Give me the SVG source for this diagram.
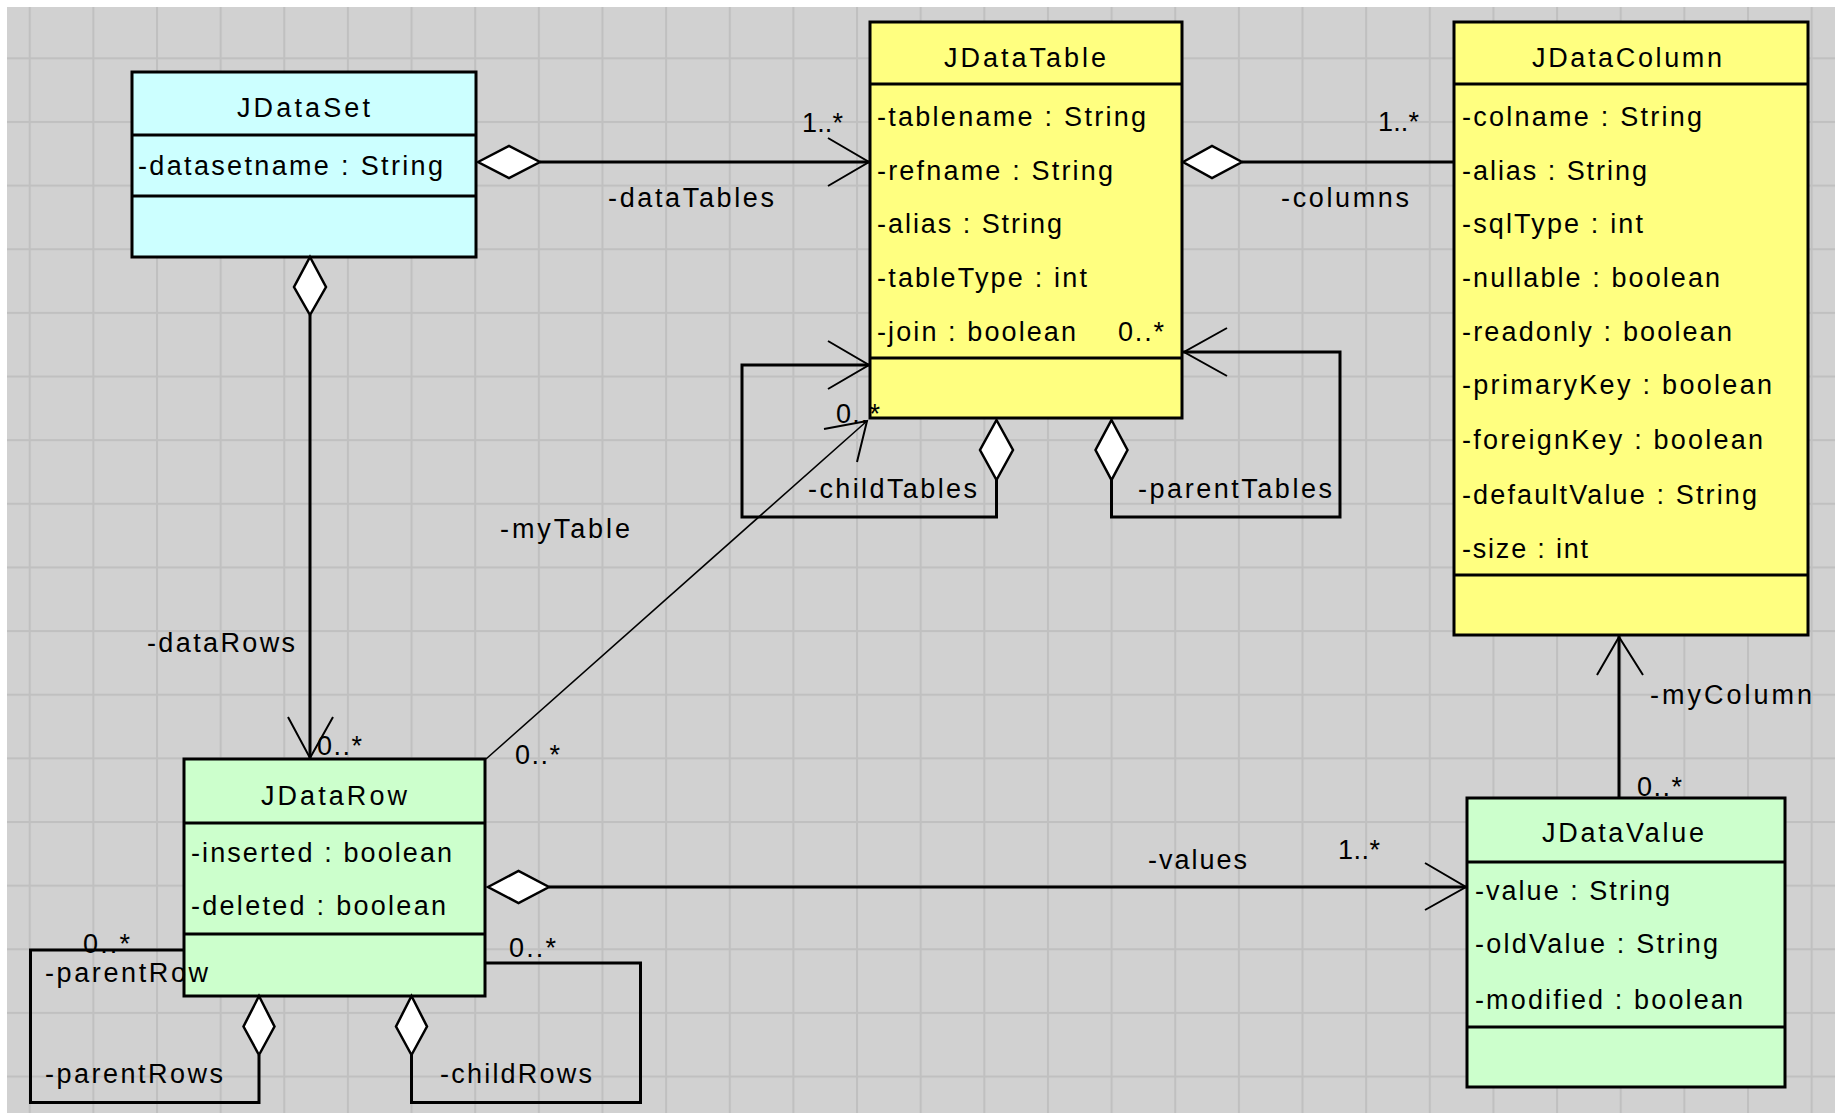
<svg xmlns="http://www.w3.org/2000/svg" width="1835" height="1113" viewBox="0 0 1835 1113">
<defs>
<pattern id="grid" x="28.7" y="57.3" width="63.64" height="63.64" patternUnits="userSpaceOnUse">
<rect width="63.64" height="63.64" fill="#d1d1d1"/>
<rect x="0" y="0" width="2" height="63.64" fill="#c0c0c0"/>
<rect x="0" y="0" width="63.64" height="2" fill="#c0c0c0"/>
</pattern>
<style>
text{font-family:"Liberation Sans",Arial,sans-serif;font-size:27px;fill:#000}
.box{stroke:#000;stroke-width:3}
.set{fill:#ccffff}
.tbl{fill:#ffff80}
.row{fill:#ccffcc}
.div{stroke:#000;stroke-width:3}
.ln{fill:none;stroke:#000;stroke-width:3}
.thin{fill:none;stroke:#000;stroke-width:1.6}
.arr{fill:none;stroke:#000;stroke-width:2}
.dia{fill:#fff;stroke:#000;stroke-width:2.5}
</style>
</defs>
<rect width="1835" height="1113" fill="#ffffff"/>
<rect x="7" y="7" width="1828" height="1106" fill="url(#grid)"/>

<g id="JDataSet">
<rect class="box set" x="132" y="72" width="344" height="185"/>
<line class="div" x1="132" y1="135" x2="476" y2="135"/>
<line class="div" x1="132" y1="196" x2="476" y2="196"/>
<text x="237" y="117" textLength="133" lengthAdjust="spacing">JDataSet</text>
<text x="138" y="175" textLength="305" lengthAdjust="spacing">-datasetname : String</text>
</g>

<g id="JDataTable">
<rect class="box tbl" x="870" y="22" width="312" height="396"/>
<line class="div" x1="870" y1="84" x2="1182" y2="84"/>
<line class="div" x1="870" y1="358" x2="1182" y2="358"/>
<text x="944" y="67" textLength="162" lengthAdjust="spacing">JDataTable</text>
<text x="877" y="126" textLength="269" lengthAdjust="spacing">-tablename : String</text>
<text x="877" y="180" textLength="236" lengthAdjust="spacing">-refname : String</text>
<text x="877" y="233" textLength="185" lengthAdjust="spacing">-alias : String</text>
<text x="877" y="287" textLength="210" lengthAdjust="spacing">-tableType : int</text>
<text x="877" y="341" textLength="199" lengthAdjust="spacing">-join : boolean</text>
</g>

<g id="JDataColumn">
<rect class="box tbl" x="1454" y="22" width="354" height="613"/>
<line class="div" x1="1454" y1="84" x2="1808" y2="84"/>
<line class="div" x1="1454" y1="575" x2="1808" y2="575"/>
<text x="1532" y="67" textLength="190" lengthAdjust="spacing">JDataColumn</text>
<text x="1462" y="126" textLength="240" lengthAdjust="spacing">-colname : String</text>
<text x="1462" y="180" textLength="185" lengthAdjust="spacing">-alias : String</text>
<text x="1462" y="233" textLength="181" lengthAdjust="spacing">-sqlType : int</text>
<text x="1462" y="287" textLength="258" lengthAdjust="spacing">-nullable : boolean</text>
<text x="1462" y="341" textLength="270" lengthAdjust="spacing">-readonly : boolean</text>
<text x="1462" y="394" textLength="310" lengthAdjust="spacing">-primaryKey : boolean</text>
<text x="1462" y="449" textLength="301" lengthAdjust="spacing">-foreignKey : boolean</text>
<text x="1462" y="504" textLength="295" lengthAdjust="spacing">-defaultValue : String</text>
<text x="1462" y="558" textLength="126" lengthAdjust="spacing">-size : int</text>
</g>

<g id="JDataRow">
<rect class="box row" x="184" y="759" width="301" height="237"/>
<line class="div" x1="184" y1="823" x2="485" y2="823"/>
<line class="div" x1="184" y1="934" x2="485" y2="934"/>
<text x="261" y="805" textLength="146" lengthAdjust="spacing">JDataRow</text>
<text x="191" y="862" textLength="261" lengthAdjust="spacing">-inserted : boolean</text>
<text x="191" y="915" textLength="255" lengthAdjust="spacing">-deleted : boolean</text>
</g>

<g id="JDataValue">
<rect class="box row" x="1467" y="798" width="318" height="289"/>
<line class="div" x1="1467" y1="862" x2="1785" y2="862"/>
<line class="div" x1="1467" y1="1027" x2="1785" y2="1027"/>
<text x="1542" y="842" textLength="162" lengthAdjust="spacing">JDataValue</text>
<text x="1475" y="900" textLength="195" lengthAdjust="spacing">-value : String</text>
<text x="1475" y="953" textLength="243" lengthAdjust="spacing">-oldValue : String</text>
<text x="1475" y="1009" textLength="268" lengthAdjust="spacing">-modified : boolean</text>
</g>

<g id="connectors">
<!-- dataTables -->
<g id="c-dataTables">
<line class="ln" x1="540" y1="162" x2="869" y2="162"/>
<polygon class="dia" points="478,162 509,146 540,162 509,178"/>
<polyline class="arr" points="828,138 869,162 828,186"/>
<text x="802" y="132" textLength="41" lengthAdjust="spacing">1..*</text>
<text x="608" y="207" textLength="166" lengthAdjust="spacing">-dataTables</text>
</g>
<!-- columns -->
<g id="c-columns">
<line class="ln" x1="1242" y1="162" x2="1454" y2="162"/>
<polygon class="dia" points="1183,162 1212,146 1242,162 1212,178"/>
<text x="1378" y="131" textLength="41" lengthAdjust="spacing">1..*</text>
<text x="1281" y="207" textLength="128" lengthAdjust="spacing">-columns</text>
</g>
<!-- dataRows -->
<g id="c-dataRows">
<line class="ln" x1="310" y1="315" x2="310" y2="758"/>
<polygon class="dia" points="310,257 326,287 310,315 294,287"/>
<polyline class="arr" points="288,717 310,758 333,717"/>
<text x="147" y="652" textLength="148" lengthAdjust="spacing">-dataRows</text>
<text x="317" y="755" textLength="45" lengthAdjust="spacing">0..*</text>
</g>
<!-- myTable -->
<g id="c-myTable">
<line class="thin" x1="486" y1="759" x2="867" y2="421"/>
<polyline class="arr" points="824,429 867,421 857,462"/>
<text x="500" y="538" textLength="130" lengthAdjust="spacing">-myTable</text>
<text x="515" y="764" textLength="45" lengthAdjust="spacing">0..*</text>
<text x="836" y="423" textLength="44" lengthAdjust="spacing">0..*</text>
</g>
<!-- childTables -->
<g id="c-childTables">
<polyline class="ln" points="869,365 742,365 742,517 996.5,517 996.5,480"/>
<polygon class="dia" points="996.5,420 1013,450 996.5,480 980,450"/>
<polyline class="arr" points="828,341 869,365 828,389"/>
<text x="808" y="498" textLength="169" lengthAdjust="spacing">-childTables</text>
</g>
<!-- parentTables -->
<g id="c-parentTables">
<polyline class="ln" points="1183,352 1340,352 1340,517 1111.5,517 1111.5,480"/>
<polygon class="dia" points="1111.5,420 1127.5,450 1111.5,480 1095.5,450"/>
<polyline class="arr" points="1227,328 1184,352 1227,376"/>
<text x="1138" y="498" textLength="194" lengthAdjust="spacing">-parentTables</text>
<text x="1118" y="341" textLength="46" lengthAdjust="spacing">0..*</text>
</g>
<!-- values -->
<g id="c-values">
<line class="ln" x1="549" y1="887" x2="1466" y2="887"/>
<polygon class="dia" points="488,887 518.5,871 549,887 518.5,903"/>
<polyline class="arr" points="1425,863 1466,887 1425,910"/>
<text x="1148" y="869" textLength="99" lengthAdjust="spacing">-values</text>
<text x="1338" y="859" textLength="42" lengthAdjust="spacing">1..*</text>
</g>
<!-- myColumn -->
<g id="c-myColumn">
<line class="ln" x1="1619" y1="798" x2="1619" y2="636"/>
<polyline class="arr" points="1597,675 1619,637 1643,675"/>
<text x="1650" y="704" textLength="162" lengthAdjust="spacing">-myColumn</text>
<text x="1637" y="796" textLength="45" lengthAdjust="spacing">0..*</text>
</g>
<!-- parentRow / parentRows -->
<g id="c-parentRows">
<polyline class="ln" points="184,950 30.5,950 30.5,1102.5 259,1102.5 259,1055"/>
<polygon class="dia" points="259,996 274.5,1026.5 259,1055 243.5,1026.5"/>
<text x="83" y="953" textLength="47" lengthAdjust="spacing">0..*</text>
<text x="45" y="982" textLength="163" lengthAdjust="spacing">-parentRow</text>
<text x="45" y="1083" textLength="178" lengthAdjust="spacing">-parentRows</text>
</g>
<!-- childRows -->
<g id="c-childRows">
<polyline class="ln" points="485,963 640.5,963 640.5,1102.5 411.5,1102.5 411.5,1055"/>
<polygon class="dia" points="411.5,996 427,1026.5 411.5,1055 396,1026.5"/>
<text x="509" y="957" textLength="47" lengthAdjust="spacing">0..*</text>
<text x="440" y="1083" textLength="152" lengthAdjust="spacing">-childRows</text>
</g>
</g>
</svg>
